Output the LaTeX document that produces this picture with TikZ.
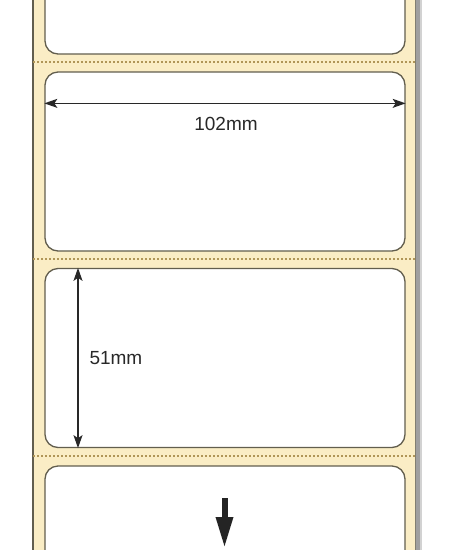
\documentclass[tikz,border=0pt]{standalone}
\usepackage{fontspec}
\setmainfont{Liberation Sans}
\usepackage{tikz}
\usetikzlibrary{arrows.meta}
\definecolor{liner}{RGB}{250, 237, 197}
\definecolor{edge}{RGB}{98, 94, 78}
\definecolor{perf}{RGB}{176, 150, 88}
\definecolor{ink}{RGB}{40, 40, 40}

\begin{document}
\begin{tikzpicture}[
    x=1pt, y=-1pt,
    label/.style={draw=edge, fill=white, line width=1.3pt, rounded corners=13pt, minimum width=360pt, minimum height=179pt, inner sep=0pt},
    perforation/.style={perf, line width=1.2pt, dash pattern=on 2pt off 2pt},
    dim/.style={ink, line width=1.4pt, {Stealth[length=13pt, width=9pt, inset=3pt]}-{Stealth[length=13pt, width=9pt, inset=3pt]}},
    dimtext/.style={font=\fontsize{19}{22}\selectfont, text=ink},
]
    \useasboundingbox (0,0) rectangle (461,550);
    \clip (0,0) rectangle (461,550);

    % backing liner
    \fill[liner] (33,-5) rectangle (415,560);
    \fill[gray!75] (415,-5) rectangle (420,560);
    \fill[gray!35] (420,-5) rectangle (422,560);
    \draw[edge, line width=1.2pt] (33,-5) -- (33,560);
    \draw[edge!80, line width=0.8pt] (415,-5) -- (415,560);

    % perforations between labels
    \foreach \y in {62,259,456}
        \draw[perforation] (33,\y) -- (415,\y);

    % labels
    \node[label] (lab1) at (225,-35.5) {};
    \node[label] (lab2) at (225,161.5) {};
    \node[label] (lab3) at (225,358) {};
    \node[label] (lab4) at (225,555.5) {};

    % dimensions
    \draw[dim] ([yshift=-32pt]lab2.north west) -- ([yshift=-32pt]lab2.north east);
    \node[dimtext] (width) at (226,124) {102mm};
    \draw[dim] ([xshift=-147pt]lab3.north) -- ([xshift=-147pt]lab3.south);
    \node[dimtext, anchor=west] (height) at (86,358) {51mm};

    % feed direction
    \coordinate (feed top) at (224.5,498);
    \coordinate (feed tip) at (224.5,548);
    \draw[ink!90!black, line width=6pt, -{Triangle[length=31pt, width=16pt]}] (feed top) -- (feed tip);
\end{tikzpicture}
\end{document}
